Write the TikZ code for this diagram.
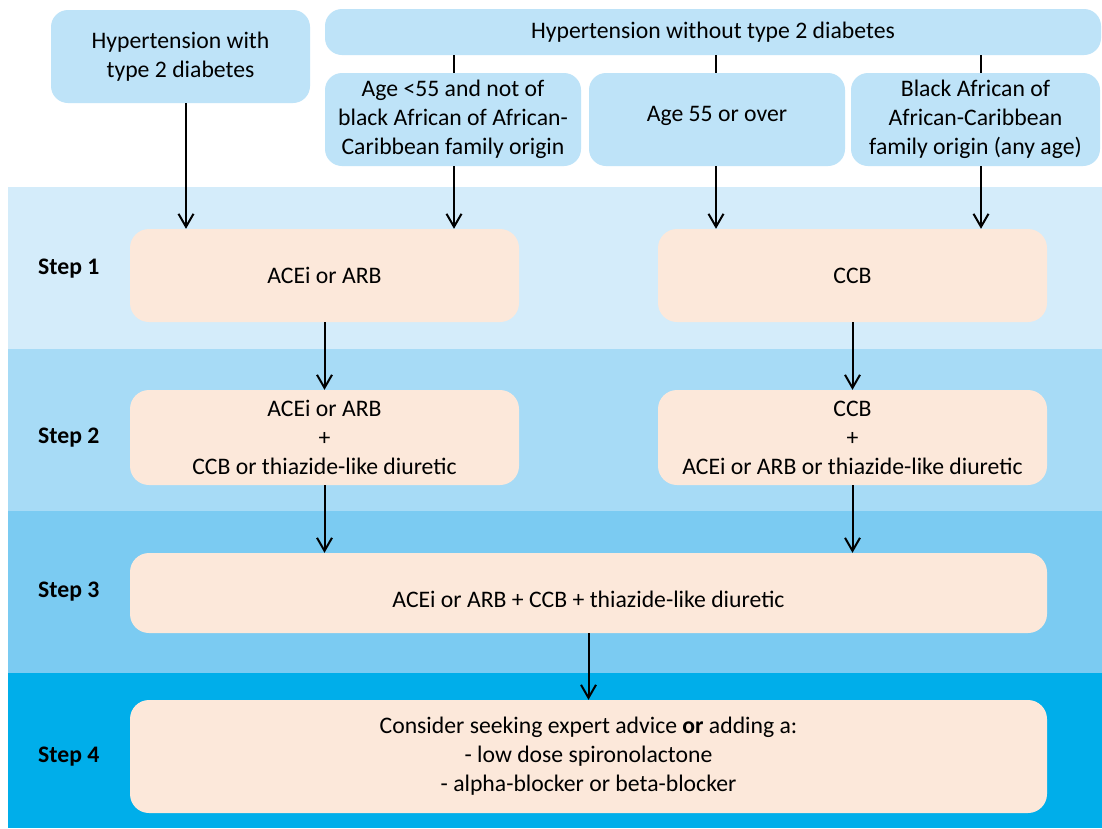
\documentclass[tikz,border=0pt]{standalone}
\usepackage{fontspec}
\setmainfont{Carlito}
\usetikzlibrary{arrows.meta}
\definecolor{grpblue}{RGB}{190,227,248}
\definecolor{bandA}{RGB}{212,236,250}
\definecolor{bandB}{RGB}{167,219,246}
\definecolor{bandC}{RGB}{123,203,242}
\definecolor{bandD}{RGB}{0,174,234}
\definecolor{drugbox}{RGB}{252,232,218}
\newcommand{\bodyfont}{\fontsize{23.7}{29}\selectfont}
\tikzset{
  group/.style={fill=grpblue, rounded corners=17pt, align=center, inner sep=0pt},
  drug/.style={fill=drugbox, rounded corners=19pt, align=center, inner sep=0pt},
  steplabel/.style={anchor=west, font=\bodyfont\bfseries, inner sep=0pt},
  arr/.style={line width=2pt, -{Straight Barb[length=13pt,width=15pt,line width=2pt]}},
  tick/.style={line width=2pt}
}
\begin{document}
\begin{tikzpicture}[x=1pt, y=-1pt, font=\bodyfont]
\useasboundingbox (0,0) rectangle (1102,828);
\fill[white] (0,0) rectangle (1102,828);

% step bands
\fill[bandA] (8,187) rectangle (1102,349);
\fill[bandB] (8,349) rectangle (1102,511);
\fill[bandC] (8,511) rectangle (1102,673);
\fill[bandD] (8,673) rectangle (1102,828);

% patient groups
\node[group, minimum width=259pt, minimum height=93pt] (withdm) at (180.5,56.5)
  {Hypertension with\\type 2 diabetes};
\node[group, minimum width=776pt, minimum height=46pt] (nodm) at (713,32)
  {Hypertension without type 2 diabetes};
\node[group, minimum width=256pt, minimum height=93pt] (young) at (453,119.5)
  {Age <55 and not of\\black African of African-\\Caribbean family origin};
\node[group, minimum width=256pt, minimum height=93pt, text height=18pt, text depth=15pt] (older) at (717,119.5)
  {Age 55 or over};
\node[group, minimum width=249pt, minimum height=93pt] (black) at (975.5,119.5)
  {Black African of\\African-Caribbean\\family origin (any age)};

% treatment steps
\node[drug, minimum width=389pt, minimum height=93pt] (s1a) at (324.5,275.5) {ACEi or ARB};
\node[drug, minimum width=389pt, minimum height=93pt] (s1b) at (852.5,275.5) {CCB};
\node[drug, minimum width=389pt, minimum height=95pt] (s2a) at (324.5,437.5)
  {ACEi or ARB\\+\\CCB or thiazide-like diuretic};
\node[drug, minimum width=389pt, minimum height=95pt] (s2b) at (852.5,437.5)
  {CCB\\+\\ACEi or ARB or thiazide-like diuretic};
\node[drug, minimum width=917pt, minimum height=80pt, text height=34pt, text depth=5pt] (s3) at (588.5,593)
  {ACEi or ARB + CCB + thiazide-like diuretic};
\node[drug, minimum width=917pt, minimum height=113pt] (s4) at (588.5,756.5)
  {Consider seeking expert advice \textbf{or} adding a:\\- low dose spironolactone\\- alpha-blocker or beta-blocker};

% step labels
\node[steplabel] (l1) at (38,269) {Step 1};
\node[steplabel] (l2) at (38,438) {Step 2};
\node[steplabel] (l3) at (38,592) {Step 3};
\node[steplabel] (l4) at (38,757) {Step 4};

% branches of the group without diabetes
\draw[tick] (nodm.south -| young.north) ++(1pt,0) -- ([xshift=1pt]young.north);
\draw[tick] (nodm.south -| older.north) ++(-1pt,0) -- ([xshift=-1pt]older.north);
\draw[tick] (nodm.south -| black.north) ++(5.5pt,0) -- ([xshift=5.5pt]black.north);

% arrows into step 1
\draw[arr] ([xshift=5.5pt]withdm.south) -- ([xshift=5.5pt]withdm.south |- s1a.north);
\draw[arr] ([xshift=1pt]young.south) -- ([xshift=1pt]young.south |- s1a.north);
\draw[arr] ([xshift=-1pt]older.south) -- ([xshift=-1pt]older.south |- s1b.north);
\draw[arr] ([xshift=5.5pt]black.south) -- ([xshift=5.5pt]black.south |- s1b.north);

% arrows between steps
\draw[arr] (s1a) -- (s2a);
\draw[arr] (s1b) -- (s2b);
\draw[arr] (s2a.south) -- (s2a.south |- s3.north);
\draw[arr] (s2b.south) -- (s2b.south |- s3.north);
\draw[arr] (s3) -- (s4);
\end{tikzpicture}
\end{document}
